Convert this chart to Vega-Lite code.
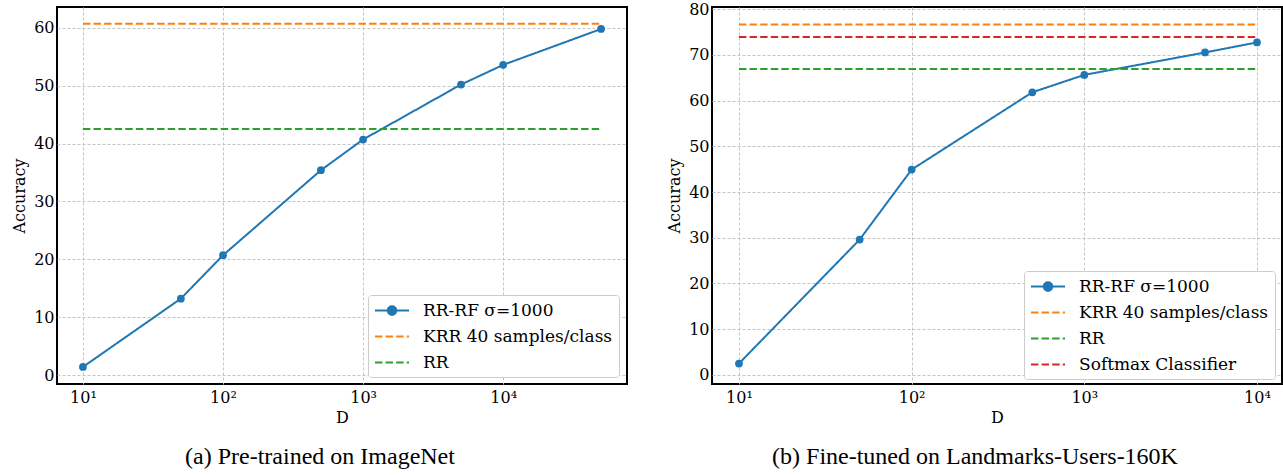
{
  "$schema": "https://vega.github.io/schema/vega-lite/v6.json",
  "autosize": {"type": "pad"},
  "padding": {"left": 10, "top": 0, "right": 2, "bottom": 5},
  "background": "white",
  "spacing": 85,
  "bounds": "flush",
  "config": {
    "font": "DejaVu Serif",
    "view": {"stroke": "black", "strokeWidth": 2},
    "axis": {
      "grid": true, "gridColor": "#c4c4c4", "gridDash": [3, 2], "gridWidth": 1,
      "domain": false, "ticks": false,
      "labelFont": "DejaVu Serif", "labelFontSize": 16, "labelColor": "black",
      "titleFont": "DejaVu Serif", "titleFontSize": 16, "titleFontWeight": "normal", "titleColor": "black"
    },
    "legend": {
      "title": null, "orient": "none",
      "labelFont": "DejaVu Serif", "labelFontSize": 17, "labelColor": "black", "labelLimit": 400,
      "fillColor": "white", "strokeColor": "#cccccc", "cornerRadius": 3,
      "padding": 6, "rowPadding": 8, "symbolSize": 289, "symbolStrokeWidth": 2, "labelOffset": 30
    },
    "title": {"font": "Liberation Serif", "fontSize": 24, "fontWeight": "normal", "color": "black"}
  },
  "hconcat": [
    {
      "width": 570, "height": 377,
      "title": {"text": "(a) Pre-trained on ImageNet", "orient": "bottom", "offset": 20, "dx": -22, "anchor": "middle"},
      "data": {"values": [
        {"series": "RR-RF σ=1000", "D": 10, "acc": 1.4},
        {"series": "RR-RF σ=1000", "D": 50, "acc": 13.2},
        {"series": "RR-RF σ=1000", "D": 100, "acc": 20.7},
        {"series": "RR-RF σ=1000", "D": 500, "acc": 35.4},
        {"series": "RR-RF σ=1000", "D": 1000, "acc": 40.7},
        {"series": "RR-RF σ=1000", "D": 5000, "acc": 50.2},
        {"series": "RR-RF σ=1000", "D": 10000, "acc": 53.6},
        {"series": "RR-RF σ=1000", "D": 50000, "acc": 59.8},
        {"series": "KRR 40 samples/class", "D": 10, "acc": 60.7},
        {"series": "KRR 40 samples/class", "D": 50000, "acc": 60.7},
        {"series": "RR", "D": 10, "acc": 42.5},
        {"series": "RR", "D": 50000, "acc": 42.5}
      ]},
      "encoding": {
        "x": {"field": "D", "type": "quantitative",
          "scale": {"type": "log", "domain": [6.53, 76560], "nice": false},
          "axis": {"values": [10, 100, 1000, 10000], "title": "D", "labelPadding": 5, "titlePadding": 4,
            "labelExpr": "datum.value == 10 ? '10¹' : datum.value == 100 ? '10²' : datum.value == 1000 ? '10³' : '10⁴'"}},
        "y": {"field": "acc", "type": "quantitative",
          "scale": {"domain": [-1.55, 63.6], "nice": false, "zero": false},
          "axis": {"values": [0, 10, 20, 30, 40, 50, 60], "title": "Accuracy", "labelPadding": 3, "titlePadding": 6}},
        "color": {"field": "series", "type": "nominal",
          "scale": {"domain": ["RR-RF σ=1000", "KRR 40 samples/class", "RR"], "range": ["#1f77b4", "#ff7f0e", "#2ca02c"]},
          "legend": {
            "legendX": 311, "legendY": 288,
            "encode": {
              "symbols": {"update": {
              "shape": {"signal": "datum.value == 'RR-RF σ=1000' ? 'M-1,0H3M1.5,0A0.5,0.5,0,1,1,0.5,0A0.5,0.5,0,1,1,1.5,0Z' : 'M-1,0H3'"},
              "strokeDash": {"signal": "datum.value == 'RR-RF σ=1000' ? [1,0] : [7.4,3.2]"},
              "fill": {"signal": "datum.value == 'RR-RF σ=1000' ? '#1f77b4' : 'transparent'"},
              "stroke": {"signal": "datum.value == 'RR-RF σ=1000' ? '#1f77b4' : datum.value == 'RR' ? '#2ca02c' : '#ff7f0e'"},
              "opacity": {"value": 1}
            }}}
          }}
      },
      "layer": [
        {"mark": {"type": "line", "strokeWidth": 2},
         "encoding": {"strokeDash": {"field": "series", "type": "nominal",
           "scale": {"domain": ["RR-RF σ=1000", "KRR 40 samples/class", "RR"], "range": [[1, 0], [7.4, 3.2], [7.4, 3.2]]}, "legend": null}}},
        {"transform": [{"filter": "datum.series == 'RR-RF σ=1000'"}],
         "mark": {"type": "point", "filled": true, "size": 60, "opacity": 1}}
      ]
    },
    {
      "width": 570, "height": 377,
      "title": {"text": "(b) Fine-tuned on Landmarks-Users-160K", "orient": "bottom", "offset": 20, "dx": -22, "anchor": "middle"},
      "data": {"values": [
        {"series": "RR-RF σ=1000", "D": 10, "acc": 2.5},
        {"series": "RR-RF σ=1000", "D": 50, "acc": 29.6},
        {"series": "RR-RF σ=1000", "D": 100, "acc": 44.9},
        {"series": "RR-RF σ=1000", "D": 500, "acc": 61.8},
        {"series": "RR-RF σ=1000", "D": 1000, "acc": 65.6},
        {"series": "RR-RF σ=1000", "D": 5000, "acc": 70.5},
        {"series": "RR-RF σ=1000", "D": 10000, "acc": 72.7},
        {"series": "KRR 40 samples/class", "D": 10, "acc": 76.6},
        {"series": "KRR 40 samples/class", "D": 10000, "acc": 76.6},
        {"series": "RR", "D": 10, "acc": 66.9},
        {"series": "RR", "D": 10000, "acc": 66.9},
        {"series": "Softmax Classifier", "D": 10, "acc": 73.9},
        {"series": "Softmax Classifier", "D": 10000, "acc": 73.9}
      ]},
      "encoding": {
        "x": {"field": "D", "type": "quantitative",
          "scale": {"type": "log", "domain": [6.98, 13960], "nice": false},
          "axis": {"values": [10, 100, 1000, 10000], "title": "D", "labelPadding": 5, "titlePadding": 4,
            "labelExpr": "datum.value == 10 ? '10¹' : datum.value == 100 ? '10²' : datum.value == 1000 ? '10³' : '10⁴'"}},
        "y": {"field": "acc", "type": "quantitative",
          "scale": {"domain": [-1.97, 80.44], "nice": false, "zero": false},
          "axis": {"values": [0, 10, 20, 30, 40, 50, 60, 70, 80], "title": "Accuracy", "labelPadding": 3, "titlePadding": 6}},
        "color": {"field": "series", "type": "nominal",
          "scale": {"domain": ["RR-RF σ=1000", "KRR 40 samples/class", "RR", "Softmax Classifier"], "range": ["#1f77b4", "#ff7f0e", "#2ca02c", "#d62728"]},
          "legend": {
            "legendX": 312, "legendY": 264,
            "encode": {
              "symbols": {"update": {
              "shape": {"signal": "datum.value == 'RR-RF σ=1000' ? 'M-1,0H3M1.5,0A0.5,0.5,0,1,1,0.5,0A0.5,0.5,0,1,1,1.5,0Z' : 'M-1,0H3'"},
              "strokeDash": {"signal": "datum.value == 'RR-RF σ=1000' ? [1,0] : [7.4,3.2]"},
              "fill": {"signal": "datum.value == 'RR-RF σ=1000' ? '#1f77b4' : 'transparent'"},
              "stroke": {"signal": "datum.value == 'RR-RF σ=1000' ? '#1f77b4' : datum.value == 'RR' ? '#2ca02c' : datum.value == 'Softmax Classifier' ? '#d62728' : '#ff7f0e'"},
              "opacity": {"value": 1}
            }}}
          }}
      },
      "layer": [
        {"mark": {"type": "line", "strokeWidth": 2},
         "encoding": {"strokeDash": {"field": "series", "type": "nominal",
           "scale": {"domain": ["RR-RF σ=1000", "KRR 40 samples/class", "RR", "Softmax Classifier"], "range": [[1, 0], [7.4, 3.2], [7.4, 3.2], [7.4, 3.2]]}, "legend": null}}},
        {"transform": [{"filter": "datum.series == 'RR-RF σ=1000'"}],
         "mark": {"type": "point", "filled": true, "size": 60, "opacity": 1}}
      ]
    }
  ],
  "resolve": {"scale": {"color": "independent", "strokeDash": "independent", "x": "independent", "y": "independent"}}
}
